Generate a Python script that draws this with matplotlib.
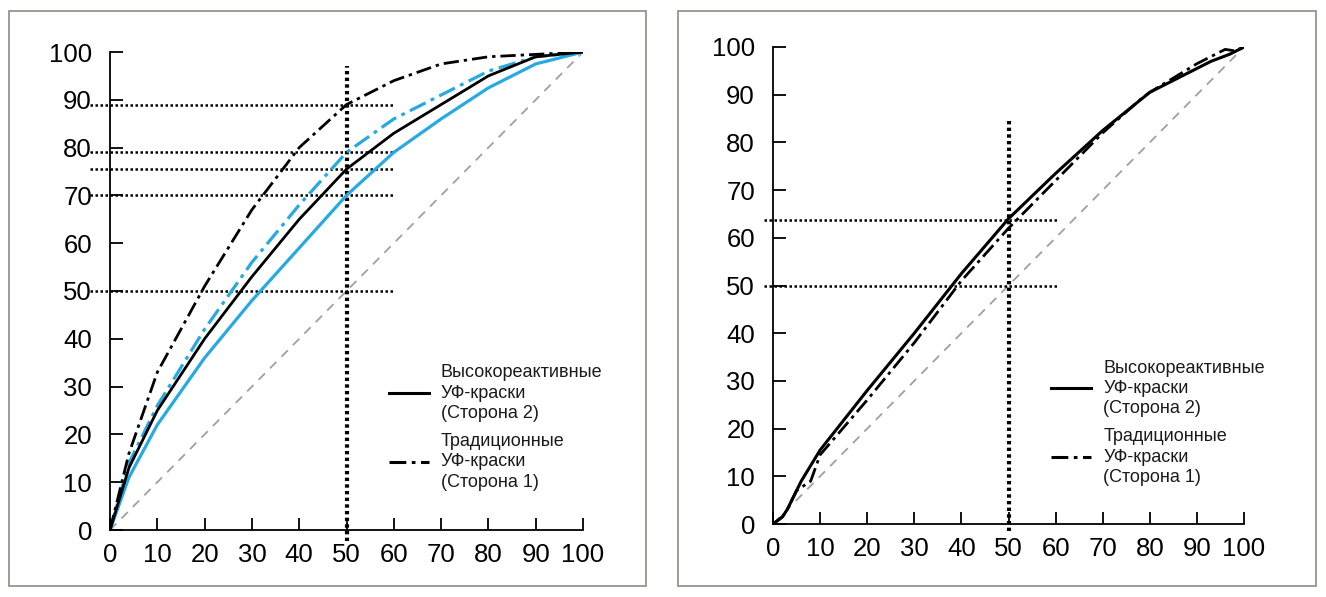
import numpy as np
import matplotlib
matplotlib.use('Agg')
import matplotlib.pyplot as plt
from matplotlib.patches import Rectangle

plt.rcParams['font.family'] = ['Liberation Sans', 'DejaVu Sans']

# ---------------- dados ----------------
ticks = [0, 10, 20, 30, 40, 50, 60, 70, 80, 90, 100]

# painel esquerdo
l_x = [0, 4, 10, 20, 30, 40, 50, 60, 70, 80, 90, 100]
l_trad_black = [0, 16, 33, 51, 67, 80, 89, 94, 97.5, 99, 99.5, 100]
l_trad_blue = [0, 14, 26, 42, 56, 68, 79, 86, 91, 96, 99, 100]
l_high_black = [0, 13, 25, 40, 53, 65, 75.5, 83, 89, 95, 99, 100]
l_high_blue = [0, 11, 22, 36, 48, 59, 70, 79, 86, 92.5, 97.5, 100]
l_hlines = [89, 79, 75.5, 70, 50]

# painel direito
r_high_x = [0, 2, 3, 6, 10, 20, 30, 40, 50, 60, 70, 80, 90, 93, 97, 100]
r_high_y = [0, 1.5, 3, 9, 15.5, 28, 40, 52.5, 64, 73.5, 82.5, 90.5, 95.5, 97, 98.5, 100]
r_trad_x = [0, 2, 3, 5, 8, 10, 20, 30, 40, 50, 60, 70, 78, 80, 90, 94, 96, 98, 100]
r_trad_y = [0, 1.5, 3, 7, 9, 14.5, 26, 38, 51, 62, 72, 82, 89, 90.5, 96.5, 98.5, 99.5, 99.2, 100]
r_hlines = [63.7, 50]

legend_labels = ['Высокореактивные\nУФ-краски\n(Сторона 2)',
                 'Традиционные\nУФ-краски\n(Сторона 1)']

blue = '#27a9e1'
gray = '#a0a0a0'
dashdot = (0, (5.5, 1.8, 1.2, 1.8))

fig = plt.figure(figsize=(13.26, 5.97), dpi=100)

# molduras
W, H = 1326, 597
for x0, x1 in [(9, 646), (678, 1316)]:
    fig.patches.append(Rectangle((x0 / W, 1 - 586 / H), (x1 - x0) / W, (586 - 11) / H,
                                 transform=fig.transFigure, fill=False,
                                 edgecolor='#8c8c84', linewidth=1.2))

axL = fig.add_axes([110 / W, 1 - 530 / H, 473 / W, 478 / H])
axR = fig.add_axes([773 / W, 1 - 524 / H, 471 / W, 477 / H])


def style(ax):
    ax.set_xlim(0, 100)
    ax.set_ylim(0, 100)
    ax.set_xticks(ticks)
    ax.set_yticks(ticks)
    for s in ['top', 'right']:
        ax.spines[s].set_visible(False)
    ax.spines['left'].set_linewidth(1.3)
    ax.spines['bottom'].set_linewidth(1.3)
    ax.tick_params(direction='in', length=9, width=1.3, labelsize=18.5, pad=9)
    ax.tick_params(axis='y', pad=13)
    ax.patch.set_visible(False)
    ax.plot([0, 100], [0, 100], color=gray, linestyle=(0, (5, 4)), linewidth=1.3)


style(axL)
style(axR)

# esquerdo
for y in l_hlines:
    axL.plot([-4.2, 60], [y, y], color='black', linestyle=(0, (1, 1)),
             linewidth=1.8, clip_on=False)
axL.plot([50, 50], [-2.2, 97], color='black', linestyle=(0, (0.8, 0.8)),
         linewidth=3.0, clip_on=False)
axL.plot(l_x, l_high_blue, color=blue, linewidth=2.3)
axL.plot(l_x, l_trad_blue, color=blue, linewidth=2.3, linestyle=dashdot)
axL.plot(l_x, l_high_black, color='black', linewidth=2.0)
axL.plot(l_x, l_trad_black, color='black', linewidth=2.0, linestyle=dashdot)

# direito
for y in r_hlines:
    axR.plot([-2, 60.3], [y, y], color='black', linestyle=(0, (1, 1)),
             linewidth=1.8, clip_on=False)
axR.plot([50, 50], [-1.5, 84.5], color='black', linestyle=(0, (0.8, 0.8)),
         linewidth=3.0, clip_on=False)
axR.plot(r_trad_x, r_trad_y, color='black', linewidth=2.0, linestyle=dashdot)
axR.plot(r_high_x, r_high_y, color='black', linewidth=2.2)

# legendas
for ax, lx0, ly in [(axL, 388, [393, 462]), (axR, 1052, [388, 457])]:
    ax0 = 110 if ax is axL else 773
    ay0 = 530 if ax is axL else 524
    styles = ['-', dashdot]
    for lab, yy, ls in zip(legend_labels, ly, styles):
        xs = [(lx0 - ax0) / 4.72, (lx0 + 40 - ax0) / 4.72]
        yv = (ay0 - yy) / 4.78
        ax.plot(xs, [yv, yv], color='black', linewidth=2.2, linestyle=ls, clip_on=False)
        ax.text((lx0 + 52 - ax0) / 4.72, yv, lab, fontsize=13, color='#1a1a1a',
                va='center', ha='left', linespacing=1.25)

fig.savefig('out.png', dpi=100)
